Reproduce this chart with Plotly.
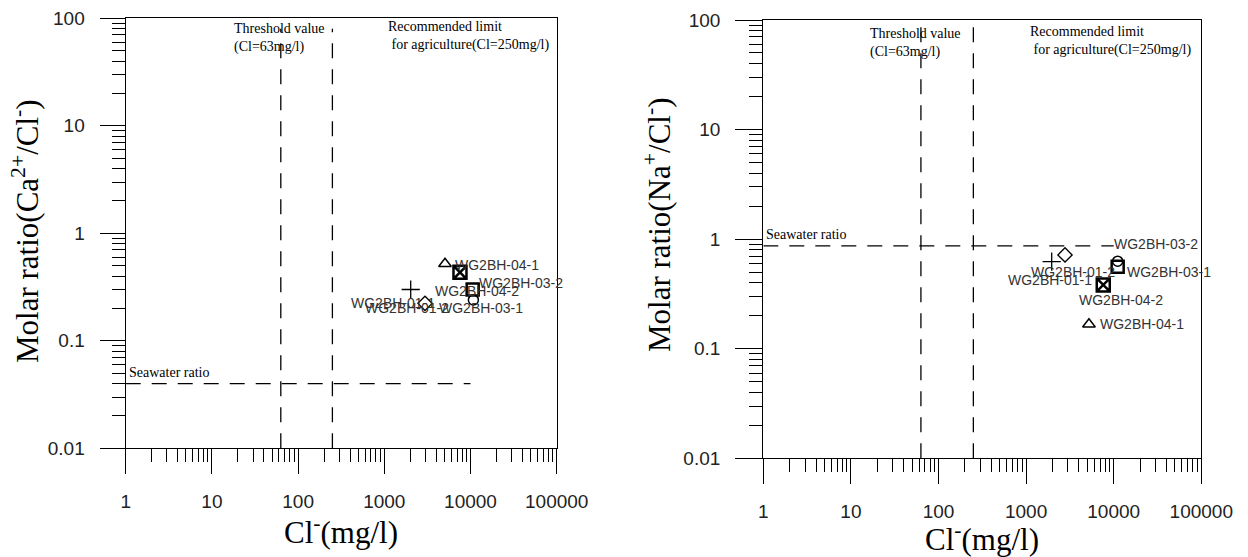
import math
import plotly.graph_objects as go

W, H = 1248, 557

# ---------------- data ----------------
samples = ["WG2BH-01-1", "WG2BH-01-2", "WG2BH-03-1", "WG2BH-03-2", "WG2BH-04-1", "WG2BH-04-2"]
cl_left = [2025, 2966, 10800, 10600, 5060, 7550]          # Cl- (mg/l)
ca_cl_ratio = [0.30, 0.223, 0.24, 0.30, 0.52, 0.434]      # Ca2+/Cl- molar ratio
cl_right = [1960, 2780, 11100, 11100, 5220, 7600]         # Cl- (mg/l)
na_cl_ratio = [0.624, 0.718, 0.63, 0.56, 0.167, 0.382]    # Na+/Cl- molar ratio

threshold_cl = 63
limit_cl = 250
seawater_ca_cl = 0.04
seawater_na_cl = 0.87
seawater_x = [1, 10000]
vline_y_left = [0.01, 80]
vline_y_right = [0.01, 100]

x_tick_vals = [1, 10, 100, 1000, 10000, 100000]
x_tick_text = ["1", "10", "100", "1000", "10000", "100000"]
y_tick_vals = [0.01, 0.1, 1, 10, 100]
y_tick_text = ["0.01", "0.1", "1", "10", "100"]

# ---------------- styles ----------------
symbols = ["cross-thin", "diamond-open", "circle-open", "square-open", "triangle-up-open", "square-x-open"]
msizes = [13, 11, 10, 12, 11, 13]
mlw = [1.3, 1.3, 1.5, 2.5, 1.5, 2.5]

# label offsets (dx, dy in px, positive dy = down), anchor
lab_left = [(-18, 13, "center"), (-18, 5, "center"), (8, 8, "center"),
            (4, -7, "left"), (8, 1, "left"), (17, 19, "center")]
lab_right = [(-2, 18, "center"), (8, 17, "center"), (7, 11, "left"),
             (-6, -23, "left"), (9, 0, "left"), (18, 15, "center")]

SERIF = "Liberation Serif, Times New Roman, serif"
SANS = "Liberation Sans, Arial, sans-serif"
DASH = "15px,11px"
L10 = math.log10   # annotations on log axes use log10 coordinates


def px2x(p):
    return p / W


def px2y(p):
    return 1 - p / H


fig = go.Figure()

panels = [
    dict(xa="x", ya="y", cl=cl_left, r=ca_cl_ratio, sw=seawater_ca_cl, vy=vline_y_left, labs=lab_left),
    dict(xa="x2", ya="y2", cl=cl_right, r=na_cl_ratio, sw=seawater_na_cl, vy=vline_y_right, labs=lab_right),
]

annotations = []
for p in panels:
    for xv in (threshold_cl, limit_cl):
        fig.add_trace(go.Scatter(x=[xv, xv], y=p["vy"], mode="lines", xaxis=p["xa"], yaxis=p["ya"],
                                 line=dict(color="black", width=1.3, dash=DASH),
                                 showlegend=False, hoverinfo="skip"))
    fig.add_trace(go.Scatter(x=seawater_x, y=[p["sw"], p["sw"]], mode="lines",
                             xaxis=p["xa"], yaxis=p["ya"],
                             line=dict(color="black", width=1.3, dash=DASH),
                             showlegend=False, hoverinfo="skip"))
    for i, s in enumerate(samples):
        fig.add_trace(go.Scatter(x=[p["cl"][i]], y=[p["r"][i]], mode="markers",
                                 xaxis=p["xa"], yaxis=p["ya"], name=s,
                                 marker=dict(symbol=symbols[i], size=msizes[i], color="black",
                                             line=dict(color="black", width=mlw[i])),
                                 showlegend=False))
        dx, dy, anc = p["labs"][i]
        annotations.append(dict(x=L10(p["cl"][i]), y=L10(p["r"][i]), xref=p["xa"], yref=p["ya"],
                                xanchor=anc, yanchor="middle", xshift=dx, yshift=-dy,
                                text=s, showarrow=False,
                                font=dict(family=SANS, size=14, color="#333333")))

# reference-line captions
cap_font = dict(family=SERIF, size=14, color="black")
for xa, ya, tdx, rdx, top_shift, sw in (
        ("x", "y", -49, 54, -1, seawater_ca_cl),
        ("x2", "y2", -53, 55, -4, seawater_na_cl)):
    annotations.append(dict(x=L10(threshold_cl), y=2, xref=xa, yref=ya, xanchor="left", yanchor="top",
                            xshift=tdx, yshift=top_shift, align="left", showarrow=False,
                            text="Threshold value<br>(Cl=63mg/l)", font=cap_font))
    annotations.append(dict(x=L10(limit_cl), y=2, xref=xa, yref=ya, xanchor="left", yanchor="top",
                            xshift=rdx, yshift=top_shift + 2, align="left", showarrow=False,
                            text="Recommended limit<br>\u00a0for agriculture(Cl=250mg/l)", font=cap_font))
    annotations.append(dict(x=0, y=L10(sw), xref=xa, yref=ya, xanchor="left", yanchor="bottom",
                            xshift=1, yshift=2, showarrow=False, align="left",
                            text="Seawater ratio", font=cap_font))

# axis titles
title_font = dict(family=SERIF, size=31, color="black")
annotations += [
    dict(x=px2x(26), y=px2y(231), xref="paper", yref="paper", showarrow=False, textangle=-90,
         xanchor="center", yanchor="middle",
         text="Molar ratio(Ca<sup>2+</sup>/Cl<sup>-</sup>)", font=title_font),
    dict(x=px2x(657), y=px2y(225), xref="paper", yref="paper", showarrow=False, textangle=-90,
         xanchor="center", yanchor="middle",
         text="Molar ratio(Na<sup>+</sup>/Cl<sup>-</sup>)", font=title_font),
    dict(x=px2x(341), y=px2y(530), xref="paper", yref="paper", showarrow=False,
         xanchor="center", yanchor="middle",
         text="Cl<sup>-</sup>(mg/l)", font=title_font),
    dict(x=px2x(982), y=px2y(537), xref="paper", yref="paper", showarrow=False,
         xanchor="center", yanchor="middle",
         text="Cl<sup>-</sup>(mg/l)", font=title_font),
]

tick_font = dict(family=SANS, size=19, color="#222222")


def xaxis(domain, anchor):
    return dict(type="log", range=[0, 5], domain=domain, anchor=anchor, automargin=False,
                showline=True, mirror=True, linecolor="black", linewidth=1.3,
                showgrid=False, zeroline=False,
                ticks="outside", ticklen=25, tickwidth=1.3, tickcolor="black",
                tickmode="array", tickvals=x_tick_vals, ticktext=x_tick_text,
                tickfont=tick_font, ticklabelstandoff=11,
                minor=dict(ticks="outside", ticklen=13, tickwidth=1.2, tickcolor="black",
                           dtick="D1", showgrid=False))


def yaxis(domain, anchor, tl):
    return dict(type="log", range=[-2, 2], domain=domain, anchor=anchor, automargin=False,
                showline=True, mirror=True, linecolor="black", linewidth=1.3,
                showgrid=False, zeroline=False,
                ticks="outside", ticklen=tl, tickwidth=1.3, tickcolor="black",
                tickmode="array", tickvals=y_tick_vals, ticktext=y_tick_text,
                tickfont=tick_font, ticklabelstandoff=11,
                minor=dict(ticks="outside", ticklen=13, tickwidth=1.2, tickcolor="black",
                           dtick="D1", showgrid=False))


fig.update_layout(
    width=W, height=H, autosize=False,
    margin=dict(l=0, r=0, t=0, b=0, pad=0, autoexpand=False),
    paper_bgcolor="white", plot_bgcolor="white",
    showlegend=False,
    xaxis=xaxis([px2x(125.7), px2x(556.7)], "y"),
    yaxis=yaxis([px2y(448.3), px2y(18.3)], "x", 25),
    xaxis2=xaxis([px2x(763.3), px2x(1201.3)], "y2"),
    yaxis2=yaxis([px2y(458.3), px2y(20)], "x2", 27),
    annotations=annotations,
)

fig.write_html("out.html", config={"displayModeBar": False},
               post_script="document.body.style.margin='0px';document.body.style.overflow='hidden';")
